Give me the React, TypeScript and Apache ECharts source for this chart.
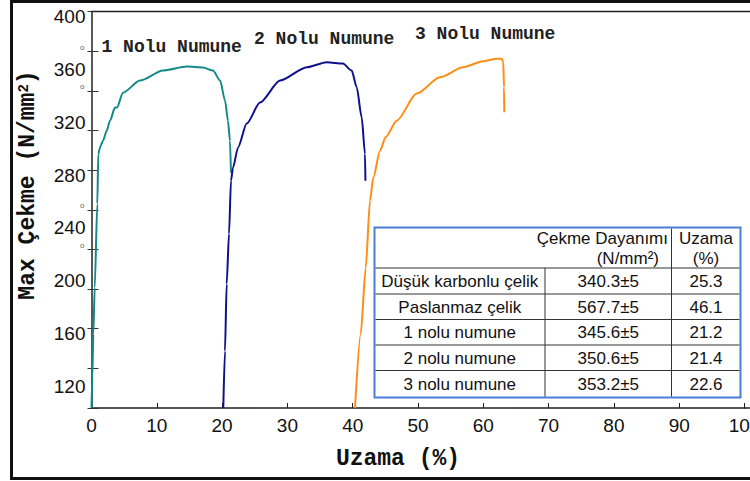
import React, { useEffect, useRef } from "react";
import * as echarts from "echarts";

// Curves: [Uzama (%), Max Çekme (N/mm²)]
const numune1: [number, number][] = [
  [0, 100], [0.12, 122.7], [0.28, 156], [0.49, 190.9], [0.89, 254.5], [1.04, 292.4],
  [1.3, 297], [1.41, 298.5], [1.76, 302.3], [2.33, 309.8], [2.83, 317.4], [3.6, 327.3],
  [3.9, 327.3], [4.82, 338.6], [7.43, 347.7], [10.95, 355.3], [14.6, 358.3], [17.1, 357.6],
  [18.6, 355.3], [19.7, 347.7], [20.45, 332.6], [20.9, 317.4], [21.2, 302.3], [21.36, 278],
];
const numune2: [number, number][] = [
  [20.18, 100], [20.44, 143.2], [20.7, 193.9], [21.06, 231.8], [21.36, 272], [21.67, 281.8],
  [22.43, 297], [23.77, 315.2], [25.8, 331.1], [28.87, 347.7], [32.96, 357.8], [36.02, 361.6],
  [38.5, 360.6], [39.85, 355.3], [40.61, 342.7], [41.38, 319.9], [41.88, 292.4], [41.95, 272],
];
const numune3: [number, number][] = [
  [40.35, 100], [41.23, 156], [41.99, 206], [42.65, 256.8], [43.15, 274.2], [44.18, 294.7],
  [45.05, 305], [46.74, 317.4], [49.8, 337.9], [53.37, 350.2], [56.88, 357.8], [59.95, 362.3],
  [62.05, 364.2], [62.82, 364.2], [63.06, 361.6], [63.17, 342.7], [63.22, 323.7],
];

const seriesNames = ["1 Nolu Numune", "2 Nolu Numune", "3 Nolu Numune"];
const seriesColors = ["#13898a", "#10108a", "#ff8c14"];

const yLabelValues = [120, 160, 200, 240, 280, 320, 360, 400];
const yRemnantTicks = [370, 340, 250, 220];

const tableHeader = ["Çekme Dayanımı", "(N/mm²)", "Uzama", "(%)"];
const tableMaterials = ["Düşük karbonlu çelik", "Paslanmaz çelik", "1 nolu numune", "2 nolu numune", "3 nolu numune"];
const tableStrengths = ["340.3±5", "567.7±5", "345.6±5", "350.6±5", "353.2±5"];
const tableElongations = ["25.3", "46.1", "21.2", "21.4", "22.6"];

const MONO = "'Liberation Mono', 'Courier New', monospace";
const SANS = "'Liberation Sans', Arial, sans-serif";

export default function App() {
  const ref = useRef<HTMLDivElement>(null);
  useEffect(() => {
    if (!ref.current) return;
    const chart = echarts.init(ref.current, undefined, { renderer: "svg" });

    // table geometry
    const tL = 374.5, tR = 740.5, tT = 227.5, tB = 397.5;
    const hLines = [268, 294, 319.5, 345, 370.5];
    const c1 = 545, c2 = 671.5;
    const rowCenters = [281, 307, 332.5, 358, 384];
    const tableEls: any[] = [
      { type: "rect", shape: { x: tL, y: tT, width: tR - tL, height: tB - tT }, style: { fill: "#fff", stroke: "#4a7dd4", lineWidth: 2 }, z: 10 },
    ];
    hLines.forEach((y) => tableEls.push({ type: "line", shape: { x1: tL + 1, y1: y, x2: tR - 1, y2: y }, style: { stroke: "#333", lineWidth: 1 }, z: 11 }));
    tableEls.push({ type: "line", shape: { x1: c1, y1: hLines[0], x2: c1, y2: tB - 1 }, style: { stroke: "#333", lineWidth: 1 }, z: 11 });
    tableEls.push({ type: "line", shape: { x1: c2, y1: tT + 1, x2: c2, y2: tB - 1 }, style: { stroke: "#333", lineWidth: 1 }, z: 11 });
    const txt = (text: string, x: number, y: number, align: string) => ({
      type: "text", x, y, z: 12,
      style: { text, fill: "#111", font: `17px ${SANS}`, textAlign: align, textVerticalAlign: "middle" },
    });
    tableEls.push(txt(tableHeader[0], 668, 238.5, "right"));
    tableEls.push(txt(tableHeader[1], 659, 258, "right"));
    tableEls.push(txt(tableHeader[2], 706, 238.5, "center"));
    tableEls.push(txt(tableHeader[3], 706, 258, "center"));
    tableMaterials.forEach((m, i) => {
      tableEls.push(txt(m, (tL + c1) / 2, rowCenters[i], "center"));
      tableEls.push(txt(tableStrengths[i], (c1 + c2) / 2, rowCenters[i], "center"));
      tableEls.push(txt(tableElongations[i], (c2 + tR) / 2, rowCenters[i], "center"));
    });

    const labelPos = [[101.5, 46.5], [254, 38.5], [415, 33.5]];
    const noteEls = seriesNames.map((n, i) => ({
      type: "text", x: labelPos[i][0], y: labelPos[i][1], z: 12,
      style: { text: n, fill: "#222", font: `bold 18px ${MONO}`, textAlign: "left", textVerticalAlign: "middle" },
    }));

    const yCommon = { type: "value", min: 100, max: 400, position: "left", offset: 0, splitLine: { show: false } };

    chart.setOption({
      animation: false,
      grid: { left: 91.5, top: 11.5, width: 653, height: 396.5, containLabel: false, outerBoundsMode: "none" },
      xAxis: {
        type: "value", min: 0, max: 100, interval: 10,
        axisLine: { show: true, lineStyle: { color: "#222", width: 1.5 } },
        axisTick: { show: true, inside: true, length: 5, lineStyle: { color: "#222" } },
        axisLabel: { fontSize: 19, color: "#111", fontFamily: SANS, margin: 8 },
        splitLine: { show: false },
      },
      yAxis: [
        {
          ...yCommon, interval: 20,
          axisLine: { show: true, lineStyle: { color: "#222", width: 1.5 } },
          axisTick: { show: false },
          axisLabel: {
            formatter: (v: number) => (yLabelValues.includes(v) ? `{s|}\n${v}` : ""),
            fontSize: 19, color: "#111", fontFamily: SANS, margin: 6, lineHeight: 20,
            rich: { s: { lineHeight: 10, fontSize: 1 } },
          },
        },
        {
          ...yCommon, interval: 30,
          axisLine: { show: false },
          axisTick: { show: true, inside: true, length: 7, lineStyle: { color: "#333" } },
          axisLabel: {
            formatter: (v: number) => (yRemnantTicks.includes(v) ? "o" : ""),
            fontSize: 8, lineHeight: 8, color: "#666", fontFamily: SANS, margin: 7, verticalAlign: "bottom",
          },
        },
        {
          ...yCommon, interval: 30,
          axisLine: { show: false },
          axisTick: { show: true, inside: false, length: 4, lineStyle: { color: "#333" } },
          axisLabel: { show: false },
        },
      ],
      series: [numune1, numune2, numune3].map((d, i) => ({
        name: seriesNames[i], type: "line", data: d, yAxisIndex: 0,
        showSymbol: false, smooth: 0.25, smoothMonotone: "x",
        lineStyle: { color: seriesColors[i], width: 2 },
        itemStyle: { color: seriesColors[i] },
      })),
      graphic: [
        { type: "rect", shape: { x: 11.5, y: 1.5, width: 760, height: 477 }, style: { fill: "none", stroke: "#111", lineWidth: 3 }, z: 5 },
        { type: "line", shape: { x1: 91.5, y1: 11.5, x2: 750, y2: 11.5 }, style: { stroke: "#222", lineWidth: 1.5 }, z: 5 },
        { type: "line", shape: { x1: 744, y1: 408, x2: 750, y2: 408 }, style: { stroke: "#222", lineWidth: 1.5 }, z: 5 },
        {
          type: "text", x: 28, y: 185, rotation: Math.PI / 2, z: 12,
          style: {
            text: "Max Çekme (N/mm{sup|2})", fill: "#111", font: `bold 23px ${MONO}`,
            textAlign: "center", textVerticalAlign: "middle",
            rich: { sup: { fontSize: 14, fontWeight: "bold", fontFamily: MONO, fill: "#111", verticalAlign: "top" } },
          },
        },
        {
          type: "text", x: 398, y: 459, z: 12,
          style: { text: "Uzama (%)", fill: "#111", font: `bold 23px ${MONO}`, textAlign: "center", textVerticalAlign: "middle" },
        },
        ...noteEls,
        ...tableEls,
      ],
    });
    return () => chart.dispose();
  }, []);
  return <div ref={ref} style={{ position: "fixed", left: 0, top: 0, width: 750, height: 481, background: "#fff" }} />;
}
